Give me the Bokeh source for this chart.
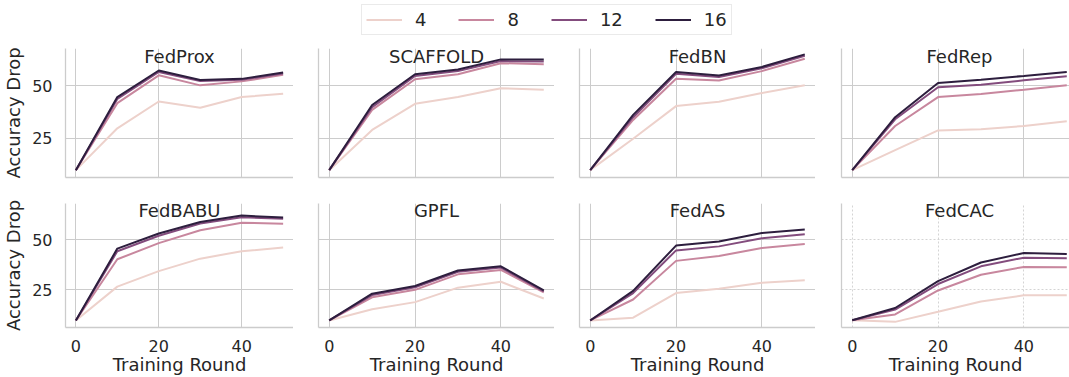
from bokeh.plotting import figure
from bokeh.layouts import column, row
from bokeh.models import FixedTicker, Label, Legend, LegendItem, Range1d
from bokeh.embed import file_html
from bokeh.resources import INLINE

# ---------------- data ----------------
rounds = [0, 10, 20, 30, 40, 50]
client_counts = ["4", "8", "12", "16"]
palette = ["#edd1cb", "#c8879e", "#834c7d", "#2d1e3e"]
methods = ["FedProx", "SCAFFOLD", "FedBN", "FedRep", "FedBABU", "GPFL", "FedAS", "FedCAC"]

fedprox = [
    [9.8, 29.8, 42.6, 39.6, 44.7, 46.3],
    [9.8, 41.8, 55.1, 50.3, 52.2, 55.3],
    [9.8, 43.8, 56.7, 52.4, 53.0, 55.9],
    [9.8, 44.7, 57.4, 52.9, 53.4, 56.4],
]
scaffold = [
    [9.8, 29.0, 41.5, 44.7, 48.9, 48.2],
    [9.8, 38.6, 53.2, 55.6, 60.9, 60.4],
    [9.8, 39.9, 54.8, 57.1, 61.9, 61.7],
    [9.8, 40.9, 55.6, 57.9, 62.7, 62.7],
]
fedbn = [
    [9.8, 24.8, 40.4, 42.5, 46.6, 50.3],
    [9.8, 33.8, 53.5, 52.6, 57.1, 63.0],
    [9.8, 35.1, 55.8, 54.3, 58.5, 64.4],
    [9.8, 36.2, 56.7, 55.0, 59.1, 65.1],
]
fedrep = [
    [9.8, 19.4, 28.8, 29.3, 30.9, 33.2],
    [9.8, 30.9, 44.7, 46.2, 48.2, 50.3],
    [9.8, 34.1, 49.4, 50.6, 52.7, 54.6],
    [9.8, 35.1, 51.4, 53.0, 54.8, 56.7],
]
fedbabu = [
    [9.8, 26.6, 34.3, 40.5, 44.2, 46.0],
    [9.8, 40.2, 48.2, 54.6, 58.3, 57.9],
    [9.8, 44.2, 51.9, 58.0, 61.1, 60.3],
    [9.8, 45.5, 53.0, 58.7, 61.9, 60.9],
]
gpfl = [
    [9.8, 15.4, 18.9, 26.1, 29.0, 20.7],
    [9.8, 21.3, 25.0, 32.7, 34.9, 23.7],
    [9.8, 22.4, 26.3, 34.0, 36.1, 24.2],
    [9.8, 23.1, 26.9, 34.6, 36.7, 24.8],
]
fedas = [
    [9.8, 11.2, 23.4, 25.5, 28.5, 29.8],
    [9.8, 20.2, 39.4, 41.8, 45.8, 47.8],
    [9.8, 23.4, 44.6, 46.6, 50.6, 52.6],
    [9.8, 24.5, 47.0, 49.0, 53.2, 55.0],
]
fedcac = [
    [9.9, 9.1, 14.1, 19.2, 22.3, 22.3],
    [9.9, 12.8, 24.7, 32.5, 36.4, 36.2],
    [9.9, 15.2, 27.9, 36.7, 41.0, 40.7],
    [9.9, 16.0, 29.3, 38.6, 43.3, 42.8],
]
all_series = [fedprox, scaffold, fedbn, fedrep, fedbabu, gpfl, fedas, fedcac]

x_ticks = [0, 20, 40]
y_ticks = [25, 50]

# ---------------- style / layout ----------------
FONT = "DejaVu Sans"
TXT = "#262626"
GRID = "#cccccc"
FRAME_H = 129
X0, X1 = -2.5, 52.5
Y0, Y1 = 6.3, 67.9
# per column: (left border, frame width); last column is cropped at the window edge
COLS = [(57, 236), (25, 236), (25, 236), (26, 228)]
PX_PER_X = 236 / (X1 - X0)
TITLE_Y = 64.3


def make_panel(idx):
    col = idx % 4
    r = idx // 4
    left, fw = COLS[col]
    top = 6 if r == 0 else 13
    bottom = 13 if r == 0 else 45
    x_end = X0 + fw / PX_PER_X
    p = figure(
        width=left + fw, height=top + FRAME_H + bottom,
        x_range=Range1d(X0, x_end), y_range=Range1d(Y0, Y1),
        toolbar_location=None, output_backend="svg",
        min_border_left=left, min_border_right=0,
        min_border_top=top, min_border_bottom=bottom,
    )
    p.outline_line_color = None
    p.background_fill_color = "white"
    p.border_fill_color = "white"

    for ax in (p.xaxis, p.yaxis):
        ax.axis_line_color = GRID
        ax.axis_line_width = 1.3
        ax.major_tick_line_color = None
        ax.minor_tick_line_color = None
        ax.major_label_text_font = FONT
        ax.major_label_text_font_size = "16px"
        ax.major_label_text_color = TXT
        ax.axis_label_text_font = FONT
        ax.axis_label_text_font_size = "18px"
        ax.axis_label_text_font_style = "normal"
        ax.axis_label_text_color = TXT

    p.yaxis.major_label_standoff = 7
    p.yaxis.axis_label_standoff = 5
    p.xaxis.major_label_standoff = 6
    p.xaxis.axis_label_standoff = -1

    if col == 0:
        p.yaxis.ticker = FixedTicker(ticks=y_ticks)
        p.yaxis.axis_label = "Accuracy Drop"
    else:
        p.yaxis.ticker = FixedTicker(ticks=[])
    if r == 1:
        p.xaxis.ticker = FixedTicker(ticks=x_ticks)
        p.xaxis.axis_label = "Training Round"
    else:
        p.xaxis.ticker = FixedTicker(ticks=[])

    p.xgrid.ticker = FixedTicker(ticks=x_ticks)
    p.ygrid.ticker = FixedTicker(ticks=y_ticks)
    p.grid.grid_line_color = GRID
    p.grid.grid_line_width = 1
    if methods[idx] == "FedCAC":
        p.grid.grid_line_dash = "2 2"
        p.grid.grid_line_color = "#d4d4d4"

    for k, ys in enumerate(all_series[idx]):
        p.line(rounds, ys, line_color=palette[k], line_width=2)

    p.add_layout(Label(
        x=(X0 + X1) / 2, y=TITLE_Y, text=methods[idx], text_align="center",
        text_baseline="alphabetic", text_font=FONT,
        text_font_size="18px", text_color=TXT,
    ))
    return p


panels = [make_panel(i) for i in range(8)]

# ---------------- legend ----------------
lg = figure(
    width=1069, height=42, toolbar_location=None, output_backend="svg",
    x_range=Range1d(0, 1), y_range=Range1d(1000, 1001),
    min_border=0,
)
lg.xaxis.visible = False
lg.yaxis.visible = False
lg.grid.visible = False
lg.outline_line_color = None
items = []
for k, c in enumerate(client_counts):
    # real series drawn outside the (empty) visible range, used only as legend handles
    rr = lg.line(rounds, fedprox[k], line_color=palette[k], line_width=2)
    items.append(LegendItem(label=c, renderers=[rr]))
legend = Legend(
    items=items, orientation="horizontal", location=(361, 7),
    glyph_width=36, glyph_height=21, label_standoff=13, spacing=32,
    padding=4, margin=0, label_width=5, label_height=21,
    label_text_font=FONT, label_text_font_size="18px", label_text_color=TXT,
    border_line_color="#d6d6d6", border_line_width=1,
    background_fill_color="white", background_fill_alpha=1,
)
lg.add_layout(legend, "center")

layout = column(
    lg,
    row(*panels[:4]),
    row(*panels[4:]),
)

open("out.html", "w").write(file_html(layout, INLINE))
